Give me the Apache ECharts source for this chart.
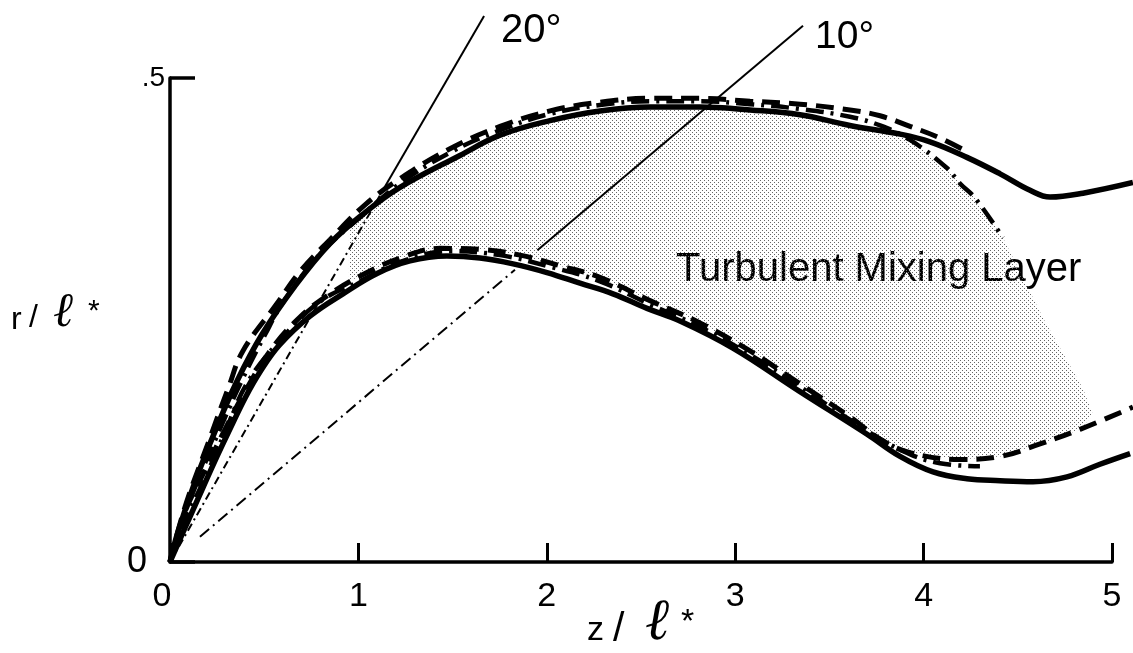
<!DOCTYPE html>
<html><head><meta charset="utf-8">
<script src="https://cdn.jsdelivr.net/npm/echarts@6/dist/echarts.min.js"></script>
<style>html,body{margin:0;padding:0;background:#fff}#c{width:1133px;height:653px}</style>
</head><body><div id="c"></div>
<script>
// ---- data (z/l*, r/l*) ----
const xTickLabels = ['0', '1', '2', '3', '4', '5'];
const yTickLabels = { '0': '0', '0.5': '.5' };

const upperSolid = [[0,0],[0.042,0.031],[0.133,0.083],[0.239,0.135],[0.356,0.187],[0.488,0.235],[0.663,0.285],[0.849,0.329],[1.035,0.361],[1.221,0.387],[1.539,0.420],[1.752,0.441],[2.017,0.456],[2.282,0.466],[2.548,0.470],[2.813,0.470],[3.079,0.467],[3.344,0.462],[3.609,0.451],[3.875,0.442],[4.034,0.434],[4.230,0.418],[4.406,0.401],[4.565,0.384],[4.671,0.377],[4.846,0.381],[5.111,0.392]];
const upperDashed = [[0,0],[0.080,0.057],[0.212,0.128],[0.310,0.180],[0.387,0.218],[0.568,0.267],[0.690,0.300],[0.849,0.333],[1.035,0.369],[1.221,0.396],[1.486,0.427],[1.752,0.450],[2.017,0.466],[2.282,0.475],[2.548,0.479],[2.813,0.479],[3.079,0.476],[3.344,0.473],[3.609,0.467],[3.769,0.461],[3.928,0.450],[4.087,0.438],[4.220,0.425]];
const upperDashDot = [[0,0],[0.060,0.039],[0.145,0.083],[0.260,0.135],[0.380,0.187],[0.505,0.235],[0.600,0.268],[0.796,0.318],[1.008,0.356],[1.221,0.391],[1.486,0.423],[1.752,0.446],[2.017,0.463],[2.282,0.472],[2.548,0.476],[2.813,0.476],[3.079,0.473],[3.344,0.468],[3.609,0.460],[3.769,0.451],[3.928,0.436],[4.124,0.407],[4.193,0.391],[4.273,0.376],[4.421,0.335]];

const lowerSolid = [[0,0],[0.070,0.031],[0.150,0.066],[0.235,0.103],[0.320,0.138],[0.400,0.170],[0.480,0.197],[0.580,0.224],[0.743,0.254],[0.918,0.277],[1.099,0.298],[1.274,0.311],[1.470,0.316],[1.645,0.314],[1.821,0.308],[2.001,0.299],[2.176,0.288],[2.351,0.277],[2.532,0.262],[2.707,0.249],[2.988,0.221],[3.344,0.176],[3.700,0.132],[3.875,0.109],[4.050,0.093],[4.230,0.086],[4.406,0.084],[4.581,0.083],[4.761,0.088],[4.936,0.101],[5.096,0.112]];
const lowerDashed = [[0,0],[0.080,0.052],[0.186,0.095],[0.292,0.137],[0.398,0.176],[0.531,0.218],[0.690,0.253],[0.849,0.277],[1.035,0.298],[1.221,0.314],[1.433,0.324],[1.645,0.323],[1.858,0.317],[2.070,0.306],[2.282,0.294],[2.548,0.270],[2.813,0.247],[3.079,0.218],[3.344,0.184],[3.609,0.150],[3.769,0.127],[3.928,0.113],[4.193,0.106],[4.406,0.109],[4.618,0.122],[4.830,0.137],[5.111,0.160]];
const lowerDashDot = [[0,0],[0.066,0.039],[0.170,0.080],[0.285,0.131],[0.410,0.185],[0.584,0.229],[0.796,0.269],[1.008,0.290],[1.221,0.310],[1.486,0.321],[1.752,0.317],[2.017,0.305],[2.282,0.290],[2.548,0.266],[2.813,0.243],[3.079,0.214],[3.344,0.181],[3.609,0.147],[3.875,0.116],[4.087,0.102],[4.299,0.099]];

const shadeTop = [[0.95,0.350],[1.221,0.387],[1.539,0.420],[1.752,0.441],[2.017,0.456],[2.282,0.466],[2.548,0.470],[2.813,0.470],[3.079,0.467],[3.344,0.462],[3.609,0.451],[3.875,0.442],[3.928,0.436],[4.124,0.407],[4.193,0.391],[4.273,0.376],[4.421,0.335]];
const shadeRight = [[4.634,0.252],[4.846,0.179],[4.899,0.152]];
const shadeBottom = [[4.830,0.137],[4.618,0.122],[4.406,0.109],[4.193,0.106],[3.928,0.113],[3.769,0.127],[3.609,0.150],[3.344,0.184],[3.079,0.218],[2.813,0.247],[2.548,0.270],[2.282,0.294],[2.070,0.306],[1.858,0.317],[1.645,0.323],[1.433,0.324],[1.221,0.314],[0.95,0.290]];

const ray20Inner = [[0,0],[1.136,0.386]];
const ray20Outer = [[1.136,0.386],[1.667,0.564]];
const ray10Inner = [[0.159,0.026],[1.831,0.302]];
const ray10Outer = [[1.95,0.322],[3.36,0.554]];

// ---- chart ----
const FONT = '"Liberation Sans", Arial, sans-serif';
const SERIF_IT = '"DejaVu Serif", serif';
const chart = echarts.init(document.getElementById('c'), null, { renderer: 'canvas' });

function stipple() {
  const c = document.createElement('canvas');
  c.width = 4; c.height = 4;
  const g = c.getContext('2d');
  g.fillStyle = '#666';
  g.fillRect(0, 0, 1, 1);
  g.fillRect(2, 2, 1, 1);
  return c;
}
const pattern = stipple();
const shadeOutline = shadeTop.concat(shadeRight, shadeBottom);

function curve(data, width, type) {
  return {
    type: 'line', xAxisIndex: 1, yAxisIndex: 1, data: data, smooth: 0.4, symbol: 'none',
    clip: false, silent: true, z: 3,
    lineStyle: { color: '#000', width: width, type: type || 'solid', cap: 'butt' }
  };
}
function ray(data, type) {
  return {
    type: 'line', data: data, smooth: false, symbol: 'none', clip: false, silent: true, z: 2,
    lineStyle: { color: '#000', width: 2, type: type }
  };
}
function txt(str, left, top, size, family, style) {
  return { type: 'text', left: left, top: top, silent: true,
    style: { text: str, fontSize: size, fontFamily: family, fontStyle: style || 'normal', fill: '#000' } };
}

const option = {
  animation: false,
  backgroundColor: '#fff',
  grid: [
    { left: 170, right: 21, top: 78, bottom: 91 },
    { left: 170, right: 0, top: 78, bottom: 91 }
  ],
  xAxis: [{
    type: 'value', min: 0, max: 5, interval: 1,
    axisLine: { show: true, lineStyle: { color: '#000', width: 3.5 } },
    axisTick: { show: true, inside: true, length: 19, lineStyle: { color: '#000', width: 3 } },
    splitLine: { show: false },
    axisLabel: {
      margin: 18, color: '#000', fontFamily: FONT, fontSize: 34,
      formatter: v => { const s = xTickLabels[Math.round(v)]; return v === 0 ? '{z|' + s + '}' : s; },
      rich: { z: { fontFamily: FONT, fontSize: 34, color: '#000', padding: [0, 16, 0, 0] } }
    }
  }, {
    gridIndex: 1, type: 'value', min: 0, max: 5.1115, show: false
  }],
  yAxis: [{
    type: 'value', min: 0, max: 0.5, interval: 0.5,
    axisLine: { show: true, lineStyle: { color: '#000', width: 3.5 } },
    axisTick: { show: true, inside: true, length: 25, lineStyle: { color: '#000', width: 3.5 } },
    splitLine: { show: false },
    axisLabel: {
      margin: 5, color: '#000', fontFamily: FONT,
      formatter: v => { const s = yTickLabels[String(v)]; if (!s) return ''; return v === 0 ? '{z|' + s + '}' : '{h|' + s + '}'; },
      rich: {
        z: { fontFamily: FONT, fontSize: 36, color: '#000', padding: [0, 18, 0, 0] },
        h: { fontFamily: FONT, fontSize: 28, color: '#000' }
      }
    }
  }, {
    gridIndex: 1, type: 'value', min: 0, max: 0.5, show: false
  }],
  graphic: [
    txt('20°', 501, 11, 40, FONT),
    txt('10°', 815, 18, 39, FONT),
    txt('Turbulent Mixing Layer', 676, 250, 40, FONT),
    // x axis title  z / l*
    txt('z', 587, 614, 34, FONT),
    txt('/', 613, 609, 41, FONT),
    txt('ℓ', 645, 595, 58, SERIF_IT, 'italic'),
    txt('*', 681, 606, 34, FONT),
    // y axis title  r / l*
    txt('r', 11, 304, 32, FONT),
    txt('/', 29, 302, 32, FONT),
    txt('ℓ', 53, 290, 48, SERIF_IT, 'italic'),
    txt('*', 88, 297, 30, FONT)
  ],
  series: [
    {
      type: 'custom', coordinateSystem: 'cartesian2d', data: [[0, 0]], silent: true, z: 1, clip: false,
      renderItem: (params, api) => ({
        type: 'polygon',
        shape: { points: shadeOutline.map(p => api.coord(p)) },
        style: { fill: { image: pattern, repeat: 'repeat' } }
      })
    },
    ray(ray20Inner, [8, 4, 2, 4]),
    ray(ray20Outer, 'solid'),
    ray(ray10Inner, [12, 5, 2, 5]),
    ray(ray10Outer, 'solid'),
    curve(upperSolid, 5.5, 'solid'),
    curve(upperDashed, 5, [18, 9]),
    curve(upperDashDot, 4.5, [18, 7, 3, 7]),
    curve(lowerSolid, 5.5, 'solid'),
    curve(lowerDashed, 5, [18, 9]),
    curve(lowerDashDot, 4.5, [18, 7, 3, 7])
  ]
};
chart.setOption(option);
</script>
</body></html>
